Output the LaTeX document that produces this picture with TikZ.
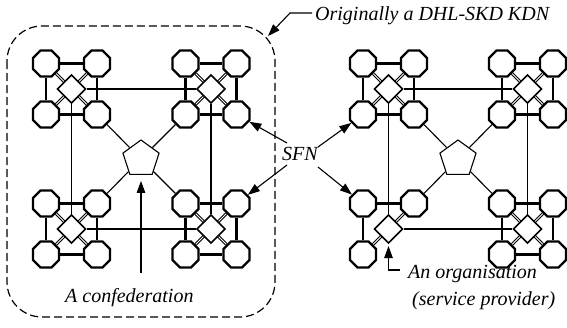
\documentclass[tikz,border=0pt]{standalone}
\usepackage{fontspec}
\setmainfont{Liberation Serif}
\usetikzlibrary{shapes.geometric,arrows.meta,backgrounds}

% four SFNs around one organisation
\newcommand\kdnnodes[3]{%
  \node[org] (#1o) at (#2,#3) {};
  \node[oct] (#1a) at ({#2-25.5},{#3-25.5}) {};
  \node[oct] (#1b) at ({#2+25.5},{#3-25.5}) {};
  \node[oct] (#1c) at ({#2-25.5},{#3+25.5}) {};
  \node[oct] (#1d) at ({#2+25.5},{#3+25.5}) {};
}
% links inside one group
\newcommand\kdnlinks[1]{%
  \draw[strong] (#1a) -- (#1b) (#1a) -- (#1c) (#1b) -- (#1d) (#1c) -- (#1d);
  \draw[pair] (#1a) -- (#1d) (#1b) -- (#1c);
}

\begin{document}
\begin{tikzpicture}[x=1pt,y=-1pt,
  oct/.style={regular polygon,regular polygon sides=8,minimum size=28.3pt,
    inner sep=0pt,draw,line width=2.2pt,fill=white},
  org/.style={diamond,minimum width=28.5pt,minimum height=28.5pt,inner sep=0pt,
    draw,line width=1.6pt,fill=white},
  conf/.style={regular polygon,regular polygon sides=5,minimum size=38pt,
    inner sep=0pt,draw,line width=1.1pt,fill=white},
  strong/.style={line width=2.4pt},
  link/.style={line width=1.1pt},
  pair/.style={double=white,double distance=0.9pt,line width=1pt},
  pointer/.style={line width=1.1pt,-{Triangle[length=12pt,width=8.5pt]}},
  lbl/.style={font=\itshape\fontsize{20}{22}\selectfont,inner sep=0pt}
]
\useasboundingbox (0,0) rectangle (567,327);

% left network
\kdnnodes{L1}{71.5}{89}
\kdnnodes{L2}{211}{89}
\kdnnodes{L3}{71.5}{229}
\kdnnodes{L4}{211}{229}
\node[conf] (LP) at (141,159) {};

% right network
\kdnnodes{R1}{388.5}{89}
\kdnnodes{R2}{527.5}{89}
\node[org] (R3o) at (388.5,229) {};
\node[oct] (R3a) at (363,203.5) {};
\node[oct] (R3b) at (414,203.5) {};
\node[oct] (R3c) at (363,254.5) {};
\kdnnodes{R4}{527.5}{229}
\node[conf] (RP) at (458,159) {};

\begin{scope}[on background layer]
  \kdnlinks{L1}\kdnlinks{L2}\kdnlinks{L3}\kdnlinks{L4}
  \kdnlinks{R1}\kdnlinks{R2}\kdnlinks{R4}
  \draw[strong] (R3a) -- (R3b) (R3a) -- (R3c);
  \draw[pair] (R3b) -- (R3c);
  \draw[link] (L1o) -- (L2o) (L1o) -- (L3o) (L2o) -- (L4o) (L3o) -- (L4o);
  \draw[link] (R1o) -- (R2o) (R1o) -- (R3o) (R2o) -- (R4o) (R3o) -- (R4o);
  \draw[link] (LP) -- (L1d) (LP) -- (L2c) (LP) -- (L3b) (LP) -- (L4a);
  \draw[link] (RP) -- (R1d) (RP) -- (R2c) (RP) -- (R3b) (RP) -- (R4a);
\end{scope}

% the original KDN
\draw[dashed,dash pattern=on 8pt off 4pt,line width=1.2pt,rounded corners=35pt]
  (7,26) rectangle (275,317);

% labels
\node[lbl,anchor=base west] (orig) at (315,20) {Originally a DHL-SKD KDN};
\node[lbl,anchor=base west] (sfn) at (282,160) {SFN};
\node[lbl,anchor=base west] (confed) at (65,302) {A confederation};
\node[lbl,anchor=base west] (orgtxt) at (408,278) {An organisation};
\node[lbl,anchor=base west] (svc) at (412,305) {(service provider)};

\coordinate (origtail) at (312,13);
\coordinate (boxcorner) at (268,36);
\draw[pointer] (origtail) -- ++(-22,0) -- (boxcorner);

\coordinate (sfnul) at (287,143);
\coordinate (sfnll) at (287,165);
\coordinate (sfnur) at (318,147);
\coordinate (sfnlr) at (318,167);
\draw[pointer] (sfnul) -- (L2d);
\draw[pointer] (sfnll) -- (L4b);
\draw[pointer] (sfnur) -- (R1c);
\draw[pointer] (sfnlr) -- (R3a);

\coordinate (confedtail) at (141,273);
\draw[pointer,shorten >=6pt] (confedtail) -- (LP.south);

\coordinate (orgtail) at (400,270);
\draw[pointer,shorten >=2pt] (orgtail) -- (R3o |- orgtail) -- (R3o.south);
\end{tikzpicture}
\end{document}
